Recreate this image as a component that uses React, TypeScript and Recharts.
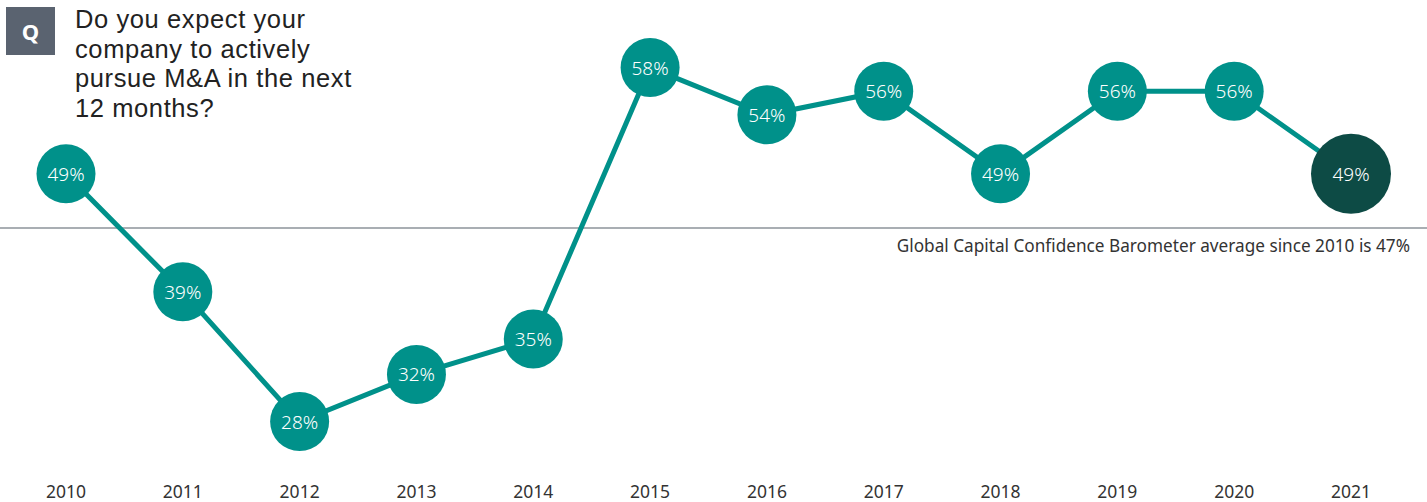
import { LineChart, Line, XAxis, YAxis, ReferenceLine } from 'recharts';

const years = ['2010', '2011', '2012', '2013', '2014', '2015', '2016', '2017', '2018', '2019', '2020', '2021'];
const pursueMA = [49, 39, 28, 32, 35, 58, 54, 56, 49, 56, 56, 49];
const titleLines = ['Do you expect your', 'company to actively', 'pursue M&A in the next', '12 months?'];
const averageNote = 'Global Capital Confidence Barometer average since 2010 is 47%';
// where the average rule sits in the picture (plot units)
const averageLinePos = 44.4;

const TEAL = '#00918a';
const DARK = '#0d4b45';
const FONT = '"Noto Sans", Arial, sans-serif';

const data = years.map((year, i) => ({ year, value: pursueMA[i] }));

function Bubble(props: any) {
  const { cx, cy, index, payload } = props;
  const last = index === data.length - 1;
  return (
    <g key={`dot-${index}`}>
      <circle cx={cx} cy={cy} r={last ? 40 : 29.5} fill={last ? DARK : TEAL} />
      <text x={cx} y={cy} dy={7} textAnchor="middle" fill="#fff" fontSize={19} fontFamily={FONT} fontWeight={300}>
        {payload.value}%
      </text>
    </g>
  );
}

function YearTick(props: any) {
  const { x, y, payload } = props;
  return (
    <text x={x} y={y} dy={39} textAnchor="middle" fill="#333" fontSize={17.5} fontFamily={FONT}>
      {payload.value}
    </text>
  );
}

export default function App() {
  return (
    <div style={{ position: 'absolute', left: 0, top: 0, width: 1427, height: 502, background: '#fff', fontFamily: FONT }}>
      <LineChart width={1427} height={502} data={data} margin={{ top: 44, right: 0, bottom: 0, left: 0 }}>
        <XAxis
          dataKey="year"
          axisLine={false}
          tickLine={false}
          tickSize={0}
          height={45}
          interval={0}
          padding={{ left: 66, right: 76 }}
          tick={<YearTick />}
        />
        <YAxis hide domain={[25, 60]} />
        <ReferenceLine y={averageLinePos} stroke="#8c939a" strokeWidth={1.5} ifOverflow="extendDomain" />
        <Line
          type="linear"
          dataKey="value"
          stroke={TEAL}
          strokeWidth={5}
          dot={<Bubble />}
          activeDot={false}
          isAnimationActive={false}
        />
      </LineChart>
      <div style={{ position: 'absolute', left: 6, top: 7, width: 49, height: 48, background: '#5a6370', color: '#fff', fontWeight: 700, fontSize: 22, display: 'flex', alignItems: 'center', justifyContent: 'center' }}>
        Q
      </div>
      <div style={{ position: 'absolute', left: 75, top: 5, fontFamily: '"Liberation Sans", Arial, sans-serif', fontSize: 25.5, letterSpacing: 0.6, lineHeight: '29.5px', color: '#222' }}>
        {titleLines.map((l) => (
          <div key={l} style={{ height: 29.5, whiteSpace: 'nowrap' }}>{l}</div>
        ))}
      </div>
      <div style={{ position: 'absolute', right: 17, top: 234, fontSize: 17.2, color: '#333' }}>{averageNote}</div>
    </div>
  );
}
